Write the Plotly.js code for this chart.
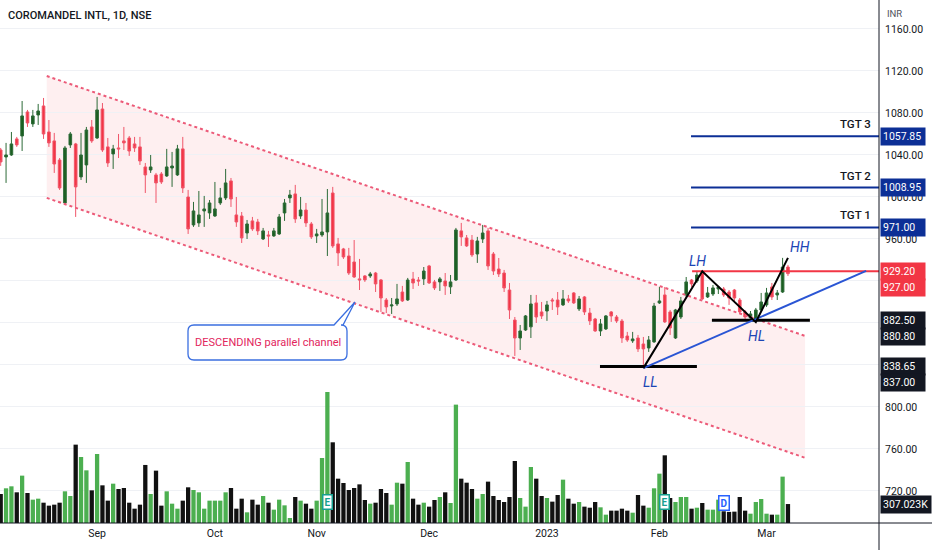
<!DOCTYPE html>
<html>
<head>
<meta charset="utf-8">
<script src="https://cdn.plot.ly/plotly-3.0.1.min.js"></script>
<style>
  html, body { margin: 0; padding: 0; background: #fff; }
  #chart { width: 932px; height: 550px; }
</style>
</head>
<body>
<div id="chart"></div>
<script>
// daily candles, mid Aug 2022 .. 8 Mar 2023
var open = [1044.8,1038.1,1040.0,1055.3,1058.1,1081.0,1069.6,1078.1,1086.7,1061.9,
  1053.4,1035.2,994.3,1049.6,1050.5,1019.1,1030.5,1066.7,1056.2,1083.8,
  1047.7,1041.0,1046.7,1053.4,1056.2,1050.5,1047.7,1028.6,1025.7,1021.0,
  1021.9,1020.0,1027.6,1021.0,1045.8,1000.0,973.4,975.3,986.7,984.8,
  981.9,994.3,999.1,1015.3,982.9,981.9,965.7,977.2,976.2,960.0,
  963.8,962.9,964.8,984.8,999.1,1002.9,981.9,987.6,974.3,962.9,
  963.8,966.7,1003.8,955.3,950.5,943.8,938.1,922.0,924.8,924.8,
  927.6,921.0,901.9,896.2,898.1,909.5,901.9,921.9,920.9,922.0,
  934.3,919.1,919.1,920.0,914.4,920.9,967.7,961.0,959.0,945.7,
  960.0,967.7,945.7,931.4,927.6,911.4,882.8,865.7,873.3,876.3,
  899.1,890.5,891.4,901.9,901.9,897.2,902.9,908.6,893.4,904.8,
  889.5,883.8,872.4,874.3,890.5,885.7,881.9,867.6,863.0,865.7,
  860.0,856.2,862.0,899.1,906.7,890.5,865.7,885.7,906.7,920.9,
  920.0,927.6,904.8,907.6,912.4,912.4,909.5,911.4,901.9,890.5,
  884.8,882.8,892.4,897.2,914.3,906.7,909.5,933.3];
var high = [1046.7,1051.5,1061.9,1057.2,1091.4,1082.9,1082.9,1088.6,1094.3,1073.3,
  1061.0,1037.1,1048.6,1061.9,1051.5,1061.0,1066.7,1073.3,1095.3,1089.5,
  1056.2,1049.6,1060.0,1066.7,1058.1,1057.2,1057.2,1032.4,1040.0,1022.9,
  1023.8,1045.8,1042.9,1049.6,1057.2,1006.7,995.3,1005.7,1001.0,997.1,
  1014.3,1008.6,1026.7,1018.1,1000.0,985.7,978.1,981.0,979.1,970.5,
  967.7,970.5,983.8,998.1,1006.7,1011.5,1000.0,994.3,976.2,969.6,
  998.1,1007.6,1009.6,961.0,951.5,951.5,959.0,941.0,925.7,928.6,
  928.6,921.9,903.8,903.8,917.2,915.3,922.9,928.6,923.8,933.3,
  935.3,921.0,923.8,927.6,925.7,970.5,975.3,963.8,963.8,962.0,
  973.4,970.5,947.6,941.9,930.5,918.1,885.7,878.1,887.6,906.7,
  906.7,900.0,901.0,903.8,909.5,911.4,906.7,909.5,905.7,905.7,
  894.3,884.8,883.8,887.6,891.4,887.6,883.8,871.5,871.5,868.6,
  866.7,867.6,899.1,914.3,914.3,892.4,893.4,904.8,923.8,921.9,
  928.6,929.2,914.3,916.2,915.3,914.3,911.4,912.4,903.8,892.4,
  891.4,894.3,908.6,913.4,918.1,911.4,942.0,935.3];
var low = [1029.6,1013.4,1039.1,1047.7,1043.8,1066.7,1066.7,1068.6,1055.3,1047.7,
  1022.9,1006.7,993.4,1046.7,981.0,1016.2,1013.4,1051.5,1055.3,1042.9,
  1028.6,1026.7,1037.1,1044.8,1039.1,1042.9,1030.5,1003.8,1022.9,994.3,
  1012.4,1019.1,1009.6,1020.0,1003.8,964.8,971.5,971.5,971.5,979.1,
  981.0,992.4,997.1,990.5,971.5,956.2,960.0,967.7,963.8,959.0,
  952.4,962.0,963.8,977.2,994.3,975.3,979.1,971.5,960.0,956.2,
  962.0,943.8,951.5,934.3,941.0,925.7,922.9,911.4,919.1,922.9,
  909.5,890.5,889.5,888.6,896.2,900.0,901.0,912.4,915.3,916.2,
  917.2,911.4,910.5,906.7,907.6,920.0,953.4,952.4,942.9,937.2,
  956.2,930.5,925.7,923.8,909.5,883.8,848.6,854.3,872.4,865.7,
  880.0,883.8,882.0,892.4,887.6,896.2,899.1,898.1,891.4,887.6,
  878.1,871.5,867.6,873.3,881.0,880.0,861.0,862.0,861.0,852.4,
  837.0,852.4,861.0,898.1,880.0,868.6,864.8,883.8,904.8,914.3,
  918.1,901.9,903.8,905.7,907.6,904.8,897.2,900.0,888.6,881.9,
  882.8,880.8,890.5,895.3,901.9,901.9,908.6,924.8];
var close = [1033.4,1040.0,1050.5,1049.6,1077.2,1070.5,1077.2,1081.9,1060.0,1051.5,
  1031.4,1008.6,1046.7,1060.0,1009.6,1040.0,1063.8,1053.4,1082.9,1044.8,
  1032.4,1045.8,1045.8,1051.5,1043.8,1046.7,1034.3,1021.0,1028.6,1013.4,
  1014.3,1028.6,1029.5,1045.8,1008.6,969.6,986.7,982.9,988.6,994.3,
  988.6,999.1,1013.4,998.1,976.2,961.0,974.3,969.6,967.7,967.7,
  962.9,967.7,981.0,994.3,1001.9,979.1,987.6,975.3,962.0,964.8,
  966.7,984.8,953.4,946.7,942.9,927.6,923.8,921.0,921.0,926.7,
  917.2,903.8,895.3,897.2,902.9,901.0,920.9,918.1,920.0,929.5,
  918.1,913.4,922.0,915.3,919.1,968.6,962.0,953.4,944.8,958.1,
  965.7,934.3,929.5,926.7,913.4,892.4,865.7,872.4,886.7,898.1,
  885.7,886.7,897.2,901.0,895.3,902.9,901.0,899.1,902.9,890.5,
  882.0,872.4,879.1,886.7,886.7,881.9,865.7,863.8,864.8,855.3,
  855.3,863.8,896.2,901.0,881.0,875.3,892.4,901.0,919.1,917.2,
  925.7,902.9,908.6,913.4,914.3,906.7,903.8,903.8,890.5,885.7,
  888.6,892.4,900.0,908.6,904.8,908.6,933.3,927.0];
// volume in thousands
var volume = [470,562,594,497,767,486,378,394,329,281,
  297,329,513,437,1269,1069,853,529,1118,610,
  362,637,551,567,329,232,297,940,470,848,
  281,513,313,232,362,578,535,497,232,362,
  362,362,497,567,232,394,173,378,297,437,
  329,216,378,286,81,421,362,313,232,362,
  1053,2122,1307,718,648,535,567,626,373,313,
  329,551,486,297,653,637,988,394,297,329,
  265,373,421,497,324,1917,718,653,551,394,
  470,670,437,373,340,421,1004,405,265,907,
  718,437,405,346,454,702,394,313,340,265,
  248,340,254,135,200,200,232,200,167,454,
  281,248,562,799,1096,405,340,421,421,232,
  248,324,216,216,378,190,180,184,421,200,
  151,340,389,151,135,135,751,307.023];

var monthIdx = [18, 40, 59, 80, 102, 123, 143];
var monthText = ['Sep', 'Oct', 'Nov', 'Dec', '2023', 'Feb', 'Mar'];
var priceTicks = [720, 760, 800, 840, 880, 920, 960, 1000, 1040, 1080, 1120, 1160];
var hiddenTicks = [840, 880, 920];

// drawings on the chart
var channelX = [8.6, 150.2];
var channelTop = [1115.2, 867.7];
var channelBottom = [999.1, 751.6];
var targetLevels = [1057.85, 1008.95, 971.00];
var targetNames = ['TGT 3', 'TGT 2', 'TGT 1'];
var targetStart = 128.9;
var lhLevel = 929.20, lhStart = 129.1;
var baseLevels = [838.65, 882.50];
var baseFrom = [111.9, 132.8];
var baseTo = [130.0, 151.1];
var pivotX = [120, 131, 141, 147];
var pivotY = [837.0, 929.2, 880.8, 942.0];
var pivotText = ['LL', 'LH', 'HL', 'HH'];
var trendX = [120, 161.6];
var trendY = [837.0, 929.6];
var earningsIdx = [61, 124];
var dividendIdx = [135];

var X_RANGE = [-0.13, 164.0], Y_RANGE = [689.5, 1187.6], VOL_RANGE = [0, 8470];
var PW = 879, PH = 523;
var FONT = 'Roboto, "Liberation Sans", sans-serif';
var TXT = '#131722';

function px2x(px) { return X_RANGE[0] + px / PW * (X_RANGE[1] - X_RANGE[0]); }
function py2y(py) { return Y_RANGE[1] - py / PH * (Y_RANGE[1] - Y_RANGE[0]); }

var idx = close.map(function (c, i) { return i; });
var volColors = close.map(function (c, i) { return c >= open[i] ? '#4caf50' : '#111111'; });

var volTrace = {
  type: 'bar', x: idx, y: volume, yaxis: 'y2',
  marker: { color: volColors, line: { width: 0 } },
  hoverinfo: 'skip'
};
var candles = {
  type: 'candlestick', x: idx, open: open, high: high, low: low, close: close,
  increasing: { line: { color: '#2d6b38', width: 1 }, fillcolor: '#1b5e20' },
  decreasing: { line: { color: '#f0566a', width: 1 }, fillcolor: '#f23645' },
  whiskerwidth: 0,
  hoverinfo: 'skip'
};

var shapes = [];
// channel
shapes.push({
  type: 'path', xref: 'x', yref: 'y', layer: 'below',
  path: 'M' + channelX[0] + ',' + channelTop[0] + ' L' + channelX[1] + ',' + channelTop[1] +
        ' L' + channelX[1] + ',' + channelBottom[1] + ' L' + channelX[0] + ',' + channelBottom[0] + ' Z',
  fillcolor: 'rgba(242,54,69,0.08)', line: { width: 0 }
});
[channelTop, channelBottom].forEach(function (c) {
  shapes.push({ type: 'line', xref: 'x', yref: 'y', x0: channelX[0], x1: channelX[1], y0: c[0], y1: c[1],
    line: { color: '#ec5a78', width: 2, dash: 'dot' } });
});
// targets
targetLevels.forEach(function (lv) {
  shapes.push({ type: 'line', xref: 'x', yref: 'y', x0: targetStart, x1: X_RANGE[1], y0: lv, y1: lv,
    line: { color: '#0c2f96', width: 2 } });
});
shapes.push({ type: 'line', xref: 'x', yref: 'y', x0: lhStart, x1: X_RANGE[1], y0: lhLevel, y1: lhLevel,
  line: { color: '#f23645', width: 2 } });
// black bases
baseLevels.forEach(function (lv, k) {
  shapes.push({ type: 'line', xref: 'x', yref: 'y', x0: baseFrom[k], x1: baseTo[k], y0: lv, y1: lv,
    line: { color: '#000', width: 3 } });
});
// blue rising trendline
shapes.push({ type: 'line', xref: 'x', yref: 'y', x0: trendX[0], x1: trendX[1], y0: trendY[0], y1: trendY[1],
  line: { color: '#2a55d4', width: 2 } });
// zigzag
var zz = 'M' + pivotX.map(function (x, k) { return x + ',' + pivotY[k]; }).join(' L');
shapes.push({ type: 'path', xref: 'x', yref: 'y', path: zz, line: { color: '#000', width: 2 } });

// callout box (pixel outline converted to data units)
(function () {
  var l = 188, r = 347, t = 325, b = 360, rad = 6;
  var pts = [
    ['M', l + rad, t], ['L', 334, t], ['L', 355, 302], ['L', 343, t], ['L', r - rad, t],
    ['Q', r, t, r, t + rad], ['L', r, b - rad], ['Q', r, b, r - rad, b], ['L', l + rad, b],
    ['Q', l, b, l, b - rad], ['L', l, t + rad], ['Q', l, t, l + rad, t]
  ];
  var p = pts.map(function (s) {
    var out = s[0];
    for (var j = 1; j < s.length; j += 2) {
      out += (j > 1 ? ' ' : '') + px2x(s[j]).toFixed(3) + ',' + py2y(s[j + 1]).toFixed(3);
    }
    return out;
  }).join(' ') + ' Z';
  shapes.push({ type: 'path', xref: 'x', yref: 'y', path: p, fillcolor: '#ffffff',
    line: { color: '#3b6fe0', width: 1.3 } });
})();

// frame lines reaching into the axis area
shapes.push({ type: 'line', xref: 'paper', yref: 'paper', x0: 0, x1: 932 / PW, y0: 0, y1: 0,
  line: { color: TXT, width: 1 } });
shapes.push({ type: 'line', xref: 'paper', yref: 'paper', x0: 1, x1: 1, y0: 1, y1: -27 / PH,
  line: { color: TXT, width: 1 } });

var annotations = [];
annotations.push({ xref: 'paper', yref: 'paper', x: 6 / PW, y: 1 - 16 / PH, xanchor: 'left', yanchor: 'middle',
  text: 'COROMANDEL INTL, 1D, NSE', showarrow: false, font: { family: FONT, size: 11, color: TXT, weight: 500 } });
annotations.push({ xref: 'paper', yref: 'paper', x: 885 / PW, y: 1 - 14 / PH, xanchor: 'left', yanchor: 'middle',
  text: 'INR', showarrow: false, font: { family: FONT, size: 9.5, color: '#50535e' } });

targetLevels.forEach(function (lv, k) {
  annotations.push({ xref: 'paper', yref: 'y', x: 873 / PW, y: lv, xanchor: 'right', yanchor: 'bottom',
    yshift: 3, text: targetNames[k], showarrow: false, font: { family: FONT, size: 11.5, color: TXT, weight: 500 } });
});

pivotText.forEach(function (t, k) {
  var dx = [7, -5, 1, 12][k], dy = [-14, 10, -14, 11][k];
  annotations.push({ xref: 'x', yref: 'y', x: pivotX[k], y: pivotY[k], xshift: dx, yshift: dy,
    text: '<i>' + t + '</i>', showarrow: false,
    font: { family: FONT, size: 14, color: '#1c45b5' } });
});

annotations.push({ xref: 'x', yref: 'y', x: px2x(267.5), y: py2y(342.5), text: 'DESCENDING parallel channel',
  showarrow: false, font: { family: FONT, size: 11, color: '#e2245c' } });

function axisLabel(yref, yv, text, bg, shift) {
  annotations.push({ xref: 'paper', yref: yref, x: 1, y: yv, xanchor: 'left', yanchor: 'middle',
    xshift: 1, yshift: shift || 0, text: text, showarrow: false, bgcolor: bg, borderpad: 2,
    width: text.length > 7 ? 46 : 40, align: 'left',
    font: { family: FONT, size: 10.5, color: '#ffffff' } });
}
targetLevels.forEach(function (lv) { axisLabel('y', lv, lv.toFixed(2), '#0c2f96'); });
axisLabel('y', lhLevel, lhLevel.toFixed(2), '#f23645');
axisLabel('y', lhLevel, close[close.length - 1].toFixed(2), '#f23645', -16);
axisLabel('y', baseLevels[1], baseLevels[1].toFixed(2), '#131722');
axisLabel('y', baseLevels[1], pivotY[2].toFixed(2), '#131722', -16.5);
axisLabel('y', baseLevels[0], baseLevels[0].toFixed(2), '#131722');
axisLabel('y', baseLevels[0], pivotY[0].toFixed(2), '#131722', -16.5);
axisLabel('y2', volume[volume.length - 1], volume[volume.length - 1].toFixed(3) + 'K', '#131722');

earningsIdx.forEach(function (e) {
  annotations.push({ xref: 'x', yref: 'paper', x: e, y: 1 - 510 / PH, text: '<b>E</b>', showarrow: false,
    bgcolor: '#ffffff', bordercolor: '#16a090', borderwidth: 1.5, borderpad: 1,
    font: { family: FONT, size: 10, color: '#16a090' } });
});
dividendIdx.forEach(function (d) {
  annotations.push({ xref: 'x', yref: 'paper', x: d, y: 1 - 511 / PH, text: '<b>D</b>', showarrow: false,
    bgcolor: '#ffffff', bordercolor: '#2962ff', borderwidth: 1.5, borderpad: 1,
    font: { family: FONT, size: 10, color: '#2962ff' } });
});

var layout = {
  width: 932, height: 550,
  margin: { l: 0, r: 932 - PW, t: 0, b: 550 - PH },
  paper_bgcolor: '#ffffff', plot_bgcolor: '#ffffff',
  showlegend: false, hovermode: false, dragmode: false,
  bargap: 0.2,
  xaxis: {
    range: X_RANGE, rangeslider: { visible: false },
    tickmode: 'array', tickvals: monthIdx, ticktext: monthText,
    showgrid: false, zeroline: false, showline: false, ticks: '',
    ticklabelstandoff: 2,
    tickfont: { family: FONT, size: 10.5, color: TXT }
  },
  yaxis: {
    side: 'right', range: Y_RANGE, fixedrange: true,
    tickmode: 'array', tickvals: priceTicks,
    ticktext: priceTicks.map(function (v) { return hiddenTicks.indexOf(v) >= 0 ? '' : v.toFixed(2); }),
    showgrid: true, gridcolor: '#eff1f5', gridwidth: 1, zeroline: false,
    showline: false, ticks: '', ticklabelstandoff: 5,
    tickfont: { family: FONT, size: 10.5, color: TXT }
  },
  yaxis2: { overlaying: 'y', range: VOL_RANGE, visible: false, fixedrange: true },
  shapes: shapes,
  annotations: annotations
};

Plotly.newPlot('chart', [volTrace, candles], layout, { staticPlot: true, displayModeBar: false });
</script>
</body>
</html>
